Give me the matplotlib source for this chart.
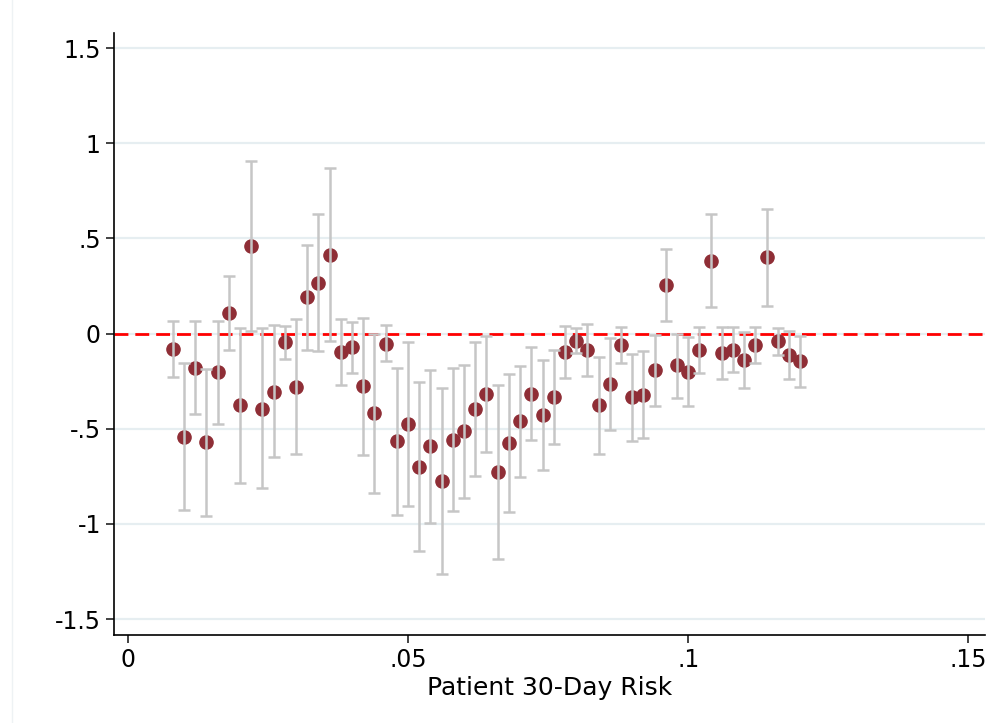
import matplotlib
matplotlib.use("Agg")
import matplotlib.pyplot as plt
import numpy as np

# Risk bins (x) and estimates with 95% CI
risk = np.round(np.arange(0.008, 0.1201, 0.002), 3)

coef = [-0.082, -0.543, -0.179, -0.571, -0.204, 0.108, -0.378, 0.461, -0.394, -0.305,
        -0.046, -0.280, 0.190, 0.268, 0.415, -0.099, -0.073, -0.277, -0.415,
        -0.053, -0.567, -0.475, -0.702, -0.592, -0.776, -0.559, -0.513, -0.398, -0.319,
        -0.727, -0.576, -0.462, -0.317, -0.426, -0.336, -0.098, -0.037, -0.087,
        -0.377, -0.263, -0.058, -0.335, -0.321, -0.193, 0.254, -0.167, -0.200, -0.088,
        0.382, -0.104, -0.084, -0.139, -0.061, 0.402, -0.040, -0.112, -0.146]

ci_hi = [0.066, -0.156, 0.064, -0.184, 0.066, 0.303, 0.028, 0.906, 0.028, 0.044,
         0.041, 0.074, 0.466, 0.628, 0.867, 0.074, 0.060, 0.083, 0.000,
         0.046, -0.182, -0.042, -0.257, -0.191, -0.285, -0.179, -0.166, -0.044, -0.011,
         -0.268, -0.214, -0.172, -0.072, -0.138, -0.089, 0.039, 0.030, 0.048,
         -0.121, -0.021, 0.035, -0.107, -0.093, -0.007, 0.446, 0.000, -0.018, 0.033,
         0.626, 0.035, 0.032, 0.007, 0.032, 0.656, 0.030, 0.012, -0.012]

ci_lo = [-0.229, -0.927, -0.422, -0.957, -0.475, -0.085, -0.784, 0.012, -0.814, -0.651,
         -0.135, -0.633, -0.087, -0.090, -0.037, -0.271, -0.207, -0.638, -0.837,
         -0.147, -0.951, -0.907, -1.144, -0.995, -1.264, -0.933, -0.862, -0.750, -0.625,
         -1.184, -0.940, -0.753, -0.560, -0.715, -0.581, -0.236, -0.105, -0.224,
         -0.633, -0.505, -0.154, -0.563, -0.547, -0.379, 0.068, -0.337, -0.381, -0.209,
         0.140, -0.240, -0.200, -0.284, -0.156, 0.146, -0.111, -0.239, -0.279]

yticks = [1.5, 1, 0.5, 0, -0.5, -1, -1.5]
ytick_labels = ["1.5", "1", ".5", "0", "-.5", "-1", "-1.5"]
xticks = [0, 0.05, 0.1, 0.15]
xtick_labels = ["0", ".05", ".1", ".15"]

coef = np.array(coef)
yerr = np.vstack([coef - np.array(ci_lo), np.array(ci_hi) - coef])

fig = plt.figure(figsize=(9.92, 7.23), dpi=100)
ax = fig.add_axes([0.1149, 0.1217, 0.8781, 0.8327])

# faint outer border like Stata's graph region
fig.add_artist(plt.Line2D([0.0125, 0.0125], [0, 1], color="#eef2f4", lw=1))

for yt in yticks:
    ax.axhline(yt, color="#e6eef1", lw=1.6, zorder=0)

ax.axhline(0, color="#ff0000", lw=2, ls=(0, (5, 2.5)), zorder=1)

ax.plot(risk, coef, "o", color="#8f2e36", ms=9.5, zorder=2)
ax.errorbar(risk, coef, yerr=yerr, fmt="none", ecolor="#c6c6c6",
            elinewidth=1.8, capsize=4.5, capthick=1.8, zorder=3)

ax.set_xlim(-0.0025, 0.1530)
ax.set_ylim(-1.584, 1.579)
ax.set_yticks(yticks)
ax.set_yticklabels(ytick_labels)
ax.set_xticks(xticks)
ax.set_xticklabels(xtick_labels)
ax.tick_params(labelsize=17, length=6, width=1.2, color="#222222")
ax.set_xlabel("Patient 30-Day Risk", fontsize=18, labelpad=3)

ax.spines["top"].set_visible(False)
ax.spines["right"].set_visible(False)
ax.spines["left"].set_linewidth(1.2)
ax.spines["bottom"].set_linewidth(1.2)

fig.savefig("out.png", dpi=100)
